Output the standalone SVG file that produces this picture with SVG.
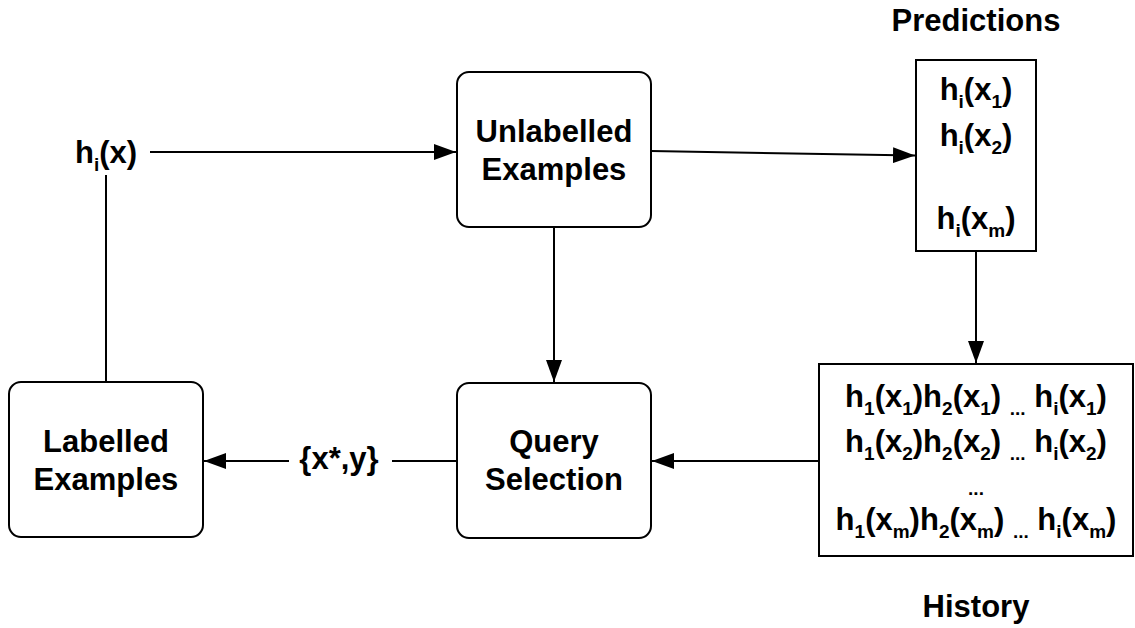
<svg xmlns="http://www.w3.org/2000/svg" width="1135" height="628" viewBox="0 0 1135 628">
<style>
  .box { fill: #ffffff; stroke: #000000; stroke-width: 2; }
  .edge { fill: none; stroke: #000000; stroke-width: 2; }
  text { font-family: "Liberation Sans", Arial, Helvetica, sans-serif; font-weight: bold; font-size: 31px; fill: #000000; text-anchor: middle; }
  .sub { font-size: 19px; }
</style>
<defs>
  <marker id="arrow" markerUnits="userSpaceOnUse" markerWidth="22" markerHeight="16" refX="22" refY="8" orient="auto">
    <path d="M0,0 L22,8 L0,16 Z" fill="#000000"/>
  </marker>
</defs>
<rect width="1135" height="628" fill="#ffffff"/>

<g id="connectors">
  <path class="edge" d="M150,152 L456,152" marker-end="url(#arrow)"/>
  <path class="edge" d="M651,151 L915,155.5" marker-end="url(#arrow)"/>
  <path class="edge" d="M554,227 L554,382" marker-end="url(#arrow)"/>
  <path class="edge" d="M976,251 L976,363" marker-end="url(#arrow)"/>
  <path class="edge" d="M819,461 L652,461" marker-end="url(#arrow)"/>
  <path class="edge" d="M457,461 L392,461"/>
  <path class="edge" d="M289,461 L204,461" marker-end="url(#arrow)"/>
  <path class="edge" d="M106,382 L106,175"/>
  <text x="339" y="469">{x*,y}</text>
</g>

<g id="hix">
  <text x="106" y="163">h<tspan class="sub" dy="8">i</tspan><tspan dy="-8">(x)</tspan></text>
</g>

<g id="unlabelled">
  <rect class="box" x="457" y="72" width="194" height="155" rx="12"/>
  <text x="554" y="142">Unlabelled</text>
  <text x="554" y="180">Examples</text>
</g>

<g id="query">
  <rect class="box" x="457" y="383" width="194" height="155" rx="12"/>
  <text x="554" y="452">Query</text>
  <text x="554" y="490">Selection</text>
</g>

<g id="labelled">
  <rect class="box" x="9" y="382" width="194" height="155" rx="12"/>
  <text x="106" y="452">Labelled</text>
  <text x="106" y="490">Examples</text>
</g>

<g id="predictions">
  <text x="976" y="31">Predictions</text>
  <rect class="box" x="916" y="60" width="120" height="191"/>
  <text x="976" y="100">h<tspan class="sub" dy="8">i</tspan><tspan dy="-8">(x</tspan><tspan class="sub" dy="8">1</tspan><tspan dy="-8">)</tspan></text>
  <text x="976" y="146">h<tspan class="sub" dy="8">i</tspan><tspan dy="-8">(x</tspan><tspan class="sub" dy="8">2</tspan><tspan dy="-8">)</tspan></text>
  <text x="976" y="229">h<tspan class="sub" dy="8">i</tspan><tspan dy="-8">(x</tspan><tspan class="sub" dy="8">m</tspan><tspan dy="-8">)</tspan></text>
</g>

<g id="history">
  <rect class="box" x="819" y="364" width="314" height="192"/>
  <text x="976" y="407">h<tspan class="sub" dy="8">1</tspan><tspan dy="-8">(x</tspan><tspan class="sub" dy="8">1</tspan><tspan dy="-8">)h</tspan><tspan class="sub" dy="8">2</tspan><tspan dy="-8">(x</tspan><tspan class="sub" dy="8">1</tspan><tspan dy="-8">) </tspan><tspan class="sub" dy="8">...</tspan><tspan dy="-8"> h</tspan><tspan class="sub" dy="8">i</tspan><tspan dy="-8">(x</tspan><tspan class="sub" dy="8">1</tspan><tspan dy="-8">)</tspan></text>
  <text x="976" y="452">h<tspan class="sub" dy="8">1</tspan><tspan dy="-8">(x</tspan><tspan class="sub" dy="8">2</tspan><tspan dy="-8">)h</tspan><tspan class="sub" dy="8">2</tspan><tspan dy="-8">(x</tspan><tspan class="sub" dy="8">2</tspan><tspan dy="-8">) </tspan><tspan class="sub" dy="8">...</tspan><tspan dy="-8"> h</tspan><tspan class="sub" dy="8">i</tspan><tspan dy="-8">(x</tspan><tspan class="sub" dy="8">2</tspan><tspan dy="-8">)</tspan></text>
  <text class="sub" x="976" y="495">...</text>
  <text x="976" y="530">h<tspan class="sub" dy="8">1</tspan><tspan dy="-8">(x</tspan><tspan class="sub" dy="8">m</tspan><tspan dy="-8">)h</tspan><tspan class="sub" dy="8">2</tspan><tspan dy="-8">(x</tspan><tspan class="sub" dy="8">m</tspan><tspan dy="-8">) </tspan><tspan class="sub" dy="8">...</tspan><tspan dy="-8"> h</tspan><tspan class="sub" dy="8">i</tspan><tspan dy="-8">(x</tspan><tspan class="sub" dy="8">m</tspan><tspan dy="-8">)</tspan></text>
  <text x="976" y="617">History</text>
</g>
</svg>
